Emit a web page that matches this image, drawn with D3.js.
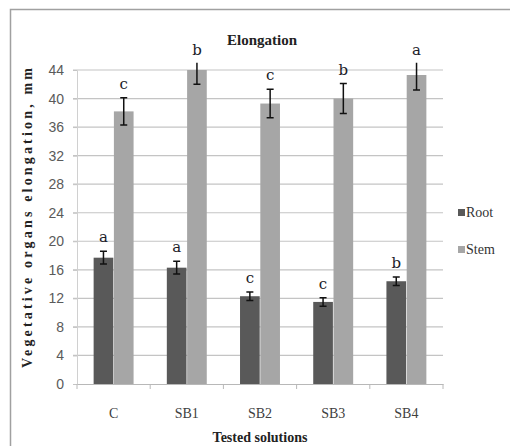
<!DOCTYPE html>
<html>
<head>
<meta charset="utf-8">
<script src="https://cdn.jsdelivr.net/npm/d3@7"></script>
<style>
  body { margin: 0; background: #fff; }
  svg { display: block; }
</style>
</head>
<body>
<div id="chart"></div>
<script>
// values
var categories = ["C", "SB1", "SB2", "SB3", "SB4"];
var seriesNames = ["Root", "Stem"];
var rootValues = [17.7, 16.3, 12.3, 11.5, 14.4];
var rootErrors = [0.9, 0.9, 0.6, 0.6, 0.6];
var rootLetters = ["a", "a", "c", "c", "b"];
var stemValues = [38.2, 44.0, 39.3, 40.0, 43.3];
var stemErrors = [1.9, 2.0, 2.0, 2.1, 2.1];
var stemLetters = ["c", "b", "c", "b", "a"];
var yTicks = [0, 4, 8, 12, 16, 20, 24, 28, 32, 36, 40, 44];

var colors = { Root: "#595959", Stem: "#a6a6a6" };

var width = 510, height = 446;
var margin = { left: 77, right: 67, top: 70, bottom: 62 };

var svg = d3.select("#chart").append("svg")
  .attr("width", width)
  .attr("height", height);

// chart frame
svg.append("rect")
  .attr("x", 10.5).attr("y", 9.5)
  .attr("width", 520).attr("height", 460)
  .attr("fill", "#fff")
  .attr("stroke", "#a0a0a0")
  .attr("stroke-width", 1.5);

var x = d3.scaleBand()
  .domain(categories)
  .range([margin.left, width - margin.right]);

var inner = d3.scaleBand()
  .domain(seriesNames)
  .range([0, x.bandwidth()])
  .paddingInner(0.03)
  .paddingOuter(0.82);

var y = d3.scaleLinear()
  .domain([0, 44])
  .range([height - margin.bottom, margin.top]);

// gridlines
svg.append("g")
  .selectAll("line")
  .data(yTicks.slice(1))
  .enter().append("line")
  .attr("x1", margin.left - 4)
  .attr("x2", width - margin.right)
  .attr("y1", function(d) { return y(d); })
  .attr("y2", function(d) { return y(d); })
  .attr("stroke", "#c4c4c4")
  .attr("stroke-width", 1.2);

// y axis labels
var yAxis = d3.axisLeft(y).tickValues(yTicks).tickSize(4).tickPadding(9);
var gy = svg.append("g")
  .attr("transform", "translate(" + margin.left + ",0)")
  .call(yAxis);
gy.select(".domain").attr("stroke", "#d0d0d0");
gy.selectAll(".tick line").attr("stroke", "#c4c4c4");
gy.selectAll("text")
  .attr("fill", "#5a5a5a")
  .style("font-family", "'Liberation Sans Narrow', 'Arial Narrow', sans-serif")
  .style("font-size", "14px");

// rows for bars
var rows = [];
categories.forEach(function(c, i) {
  rows.push({ cat: c, s: "Root", v: rootValues[i], e: rootErrors[i], l: rootLetters[i] });
  rows.push({ cat: c, s: "Stem", v: stemValues[i], e: stemErrors[i], l: stemLetters[i] });
});

svg.append("g")
  .selectAll("rect")
  .data(rows)
  .enter().append("rect")
  .attr("x", function(d) { return x(d.cat) + inner(d.s); })
  .attr("width", inner.bandwidth())
  .attr("y", function(d) { return y(d.v); })
  .attr("height", function(d) { return y(0) - y(d.v); })
  .attr("fill", function(d) { return colors[d.s]; });

// x axis
var xAxis = d3.axisBottom(x).tickSize(0).tickPadding(24);
var gx = svg.append("g")
  .attr("transform", "translate(0," + y(0) + ")")
  .call(xAxis);
gx.select(".domain").attr("stroke", "#b8b8b8").attr("stroke-width", 1.2);
gx.selectAll("text")
  .attr("fill", "#404040")
  .style("font-family", "'Liberation Serif', 'Times New Roman', serif")
  .style("font-size", "14px");
gx.selectAll(".sep")
  .data(categories.concat(["end"]))
  .enter().append("line")
  .attr("class", "sep")
  .attr("x1", function(d, i) { return margin.left + i * x.step(); })
  .attr("x2", function(d, i) { return margin.left + i * x.step(); })
  .attr("y1", 0).attr("y2", 5)
  .attr("stroke", "#b8b8b8");

// error bars, clipped a little above the top gridline
svg.append("clipPath").attr("id", "clip")
  .append("rect")
  .attr("x", 0).attr("y", y(45))
  .attr("width", width).attr("height", height);

var eb = svg.append("g").attr("clip-path", "url(#clip)")
  .selectAll("g")
  .data(rows)
  .enter().append("g")
  .attr("transform", function(d) {
    return "translate(" + (x(d.cat) + inner(d.s) + inner.bandwidth() / 2) + ",0)";
  });
eb.append("line")
  .attr("y1", function(d) { return y(d.v + d.e); })
  .attr("y2", function(d) { return y(d.v - d.e); })
  .attr("stroke", "#111").attr("stroke-width", 1.5);
eb.selectAll(".cap")
  .data(function(d) { return [d.v + d.e, d.v - d.e]; })
  .enter().append("line")
  .attr("x1", -3.5).attr("x2", 3.5)
  .attr("y1", function(d) { return y(d); })
  .attr("y2", function(d) { return y(d); })
  .attr("stroke", "#111").attr("stroke-width", 1.5);

// significance letters
svg.append("g")
  .selectAll("text")
  .data(rows)
  .enter().append("text")
  .attr("x", function(d) { return x(d.cat) + inner(d.s) + inner.bandwidth() / 2; })
  .attr("y", function(d) { return Math.max(y(d.v + d.e) - 9, 55); })
  .attr("text-anchor", "middle")
  .attr("fill", "#1c1c28")
  .style("font-family", "'DejaVu Serif', serif")
  .style("font-size", "15px")
  .text(function(d) { return d.l; });

// title
svg.append("text")
  .attr("x", 262).attr("y", 45)
  .attr("text-anchor", "middle")
  .attr("fill", "#222")
  .style("font-family", "'Liberation Serif', serif")
  .style("font-weight", "bold")
  .style("font-size", "15px")
  .text("Elongation");

// axis titles
svg.append("text")
  .attr("x", x.range()[0] + (x.range()[1] - x.range()[0]) / 2)
  .attr("y", 442)
  .attr("text-anchor", "middle")
  .attr("fill", "#222")
  .style("font-family", "'Liberation Serif', serif")
  .style("font-weight", "bold")
  .style("font-size", "14px")
  .text("Tested solutions");

svg.append("text")
  .attr("transform", "translate(32,218) rotate(-90)")
  .attr("text-anchor", "middle")
  .attr("textLength", 300)
  .attr("lengthAdjust", "spacing")
  .attr("fill", "#222")
  .style("font-family", "'Liberation Serif', serif")
  .style("font-weight", "bold")
  .style("font-size", "14px")
  .text("Vegetative organs elongation, mm");

// legend
var legend = svg.append("g")
  .selectAll("g")
  .data(seriesNames)
  .enter().append("g")
  .attr("transform", function(d, i) { return "translate(458," + (213 + i * 37) + ")"; });
legend.append("rect")
  .attr("x", 0).attr("y", -4)
  .attr("width", 7).attr("height", 7)
  .attr("fill", function(d) { return colors[d]; });
legend.append("text")
  .attr("x", 8).attr("y", 4)
  .attr("fill", "#333")
  .style("font-family", "'Liberation Serif', serif")
  .style("font-size", "14px")
  .text(function(d) { return d; });
</script>
</body>
</html>
